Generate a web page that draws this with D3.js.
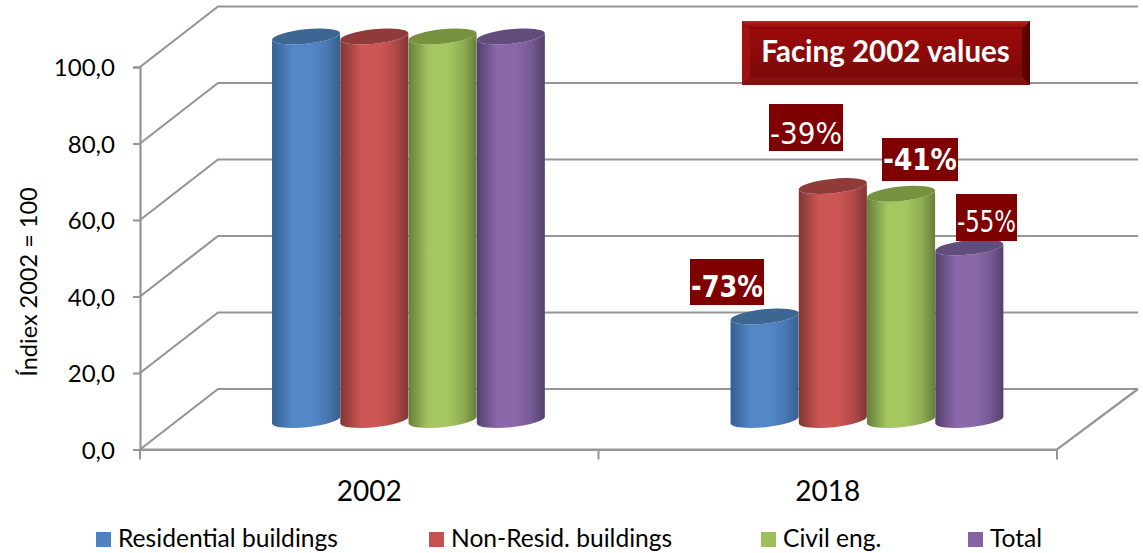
<!DOCTYPE html>
<html><head><meta charset="utf-8">
<script src="https://cdn.jsdelivr.net/npm/d3@7/dist/d3.min.js"></script>
<style>html,body{margin:0;padding:0;background:#fff}svg{display:block}text{font-family:Lato,sans-serif}</style>
</head><body><svg id="c" width="1143" height="553"></svg>
<script>
const categories = ["2002", "2018"];
const seriesNames = ["Residential buildings", "Non-Resid. buildings", "Civil eng.", "Total"];
const residential = [100, 27];
const nonResidential = [100, 61];
const civilEng = [100, 59];
const total = [100, 45];
const changeLabels = ["-73%", "-39%", "-41%", "-55%"];
const yTicks = [0, 20, 40, 60, 80, 100];
const seriesValues = [residential, nonResidential, civilEng, total];
const mainColors = ["#5387c8", "#cd5654", "#a4c75f", "#8a68aa"];
const edgeColors = ["#35608f", "#7f3634", "#667f3a", "#54406e"];
const topColors = ["#3d6693", "#8f3b3a", "#76923f", "#624c7c"];

const svg = d3.select("#c");
const defs = svg.append("defs");
const fmt = v => v.toFixed(1).replace(".", ",");
const depthX = 78, depthY = 60.5;
const x = d3.scaleBand().domain(categories).range([140, 1057]);
const y = d3.scaleLinear().domain([0, 100]).range([449.5, 67]);
const barY = d3.scaleLinear().domain([0, 100]).range([420, 36.5]);
const inner = d3.scaleBand().domain(seriesNames).range([-136.5, 136.5]);
const gridRight = 1138;

// walls
const grid = svg.append("g").attr("fill", "none").attr("stroke", "#959595").attr("stroke-width", 2.2);
grid.selectAll("path.g").data(yTicks).join("path").attr("class", "g")
  .attr("d", t => `M${x.range()[0]},${y(t)}L${x.range()[0] + depthX},${y(t) - depthY}L${gridRight},${y(t) - depthY}`);
grid.append("path").attr("d", `M140,${y(0)}L1057,${y(0)}L${gridRight},${y(0) - depthY}`);

// axes
const axL = svg.append("g").attr("transform", "translate(140,0)")
  .call(d3.axisLeft(y).tickValues(yTicks).tickFormat(fmt).tickSize(7).tickPadding(18));
const axB = svg.append("g").attr("transform", `translate(0,${y(0)})`)
  .call(d3.axisBottom(x).tickValues([]).tickSize(0));
axB.selectAll(".tick").remove();
axB.selectAll("path.t").data([140, 598.5, 1057]).join("path").attr("class", "t")
  .attr("d", d => `M${d},0V10`).attr("stroke", "#959595").attr("stroke-width", 2).attr("fill", "none");
svg.selectAll(".domain").attr("stroke", "#959595").attr("stroke-width", 2.2);
axL.selectAll(".tick line").attr("stroke", "#959595").attr("stroke-width", 2);
axL.selectAll(".tick text").attr("font-size", 24).attr("fill", "#000").attr("font-family", "Lato").attr("y", 1);

// cylinders
const rx = 34.2, ry = 7.2, tilt = 5.9, dy = rx * Math.sin(tilt * Math.PI / 180), dxx = rx * Math.cos(tilt * Math.PI / 180);
seriesNames.forEach((s, i) => {
  const g = defs.append("linearGradient").attr("id", "g" + i);
  [[0, edgeColors[i]], [.3, mainColors[i]], [.58, mainColors[i]], [.8, d3.interpolateRgb(mainColors[i], edgeColors[i])(.35)], [1, edgeColors[i]]]
    .forEach(([o, c]) => g.append("stop").attr("offset", o).attr("stop-color", c));
});
const bars = svg.append("g");
categories.forEach((cat, ci) => {
  seriesNames.forEach((s, si) => {
    const cx = x(cat) + x.bandwidth() / 2 + 39.2 + inner(s) + inner.bandwidth() / 2;
    const t = barY(seriesValues[si][ci]), b = barY(0);
    const L = cx - dxx, R = cx + dxx;
    bars.append("path").attr("fill", `url(#g${si})`)
      .attr("d", `M${L},${t + dy}L${L},${b + dy}A${rx},${ry} ${-tilt} 0 0 ${R},${b - dy}L${R},${t - dy}A${rx},${ry} ${-tilt} 0 1 ${L},${t + dy}Z`);
    bars.append("ellipse").attr("rx", rx).attr("ry", ry).attr("fill", topColors[si])
      .attr("transform", `translate(${cx},${t}) rotate(${-tilt})`);
  });
});

// category labels
svg.selectAll("text.cat").data(categories).join("text").attr("class", "cat")
  .attr("x", d => x(d) + x.bandwidth() / 2).attr("y", 501).attr("text-anchor", "middle")
  .attr("font-size", 28).attr("fill", "#000").text(d => d);

// y title
svg.append("text").attr("transform", "translate(37,282) rotate(-90)").attr("text-anchor", "middle")
  .attr("font-size", 23.5).attr("fill", "#000").text("Índiex 2002 = 100");

// legend
const legX = d3.scaleOrdinal().domain(seriesNames).range([96, 429, 761, 968]);
const leg = svg.selectAll("g.l").data(seriesNames).join("g").attr("class", "l")
  .attr("transform", d => `translate(${legX(d)},532)`);
leg.append("rect").attr("width", 15).attr("height", 15).attr("fill", (d, i) => d3.color(mainColors[i]).darker(0.12));
leg.append("text").attr("x", 22).attr("y", 15).attr("font-size", 24.6).attr("fill", "#000").text(d => d);

// change labels
const labelBoxes = [[690, 259, 74, 46, 700, 297], [769, 104, 74, 47, 400, 143.5], [882, 138, 76, 43, 700, 170], [956, 194, 61, 47, 400, 232]];
changeLabels.forEach((t, i) => {
  const [bx, by, bw, bh, w, base] = labelBoxes[i];
  svg.append("rect").attr("x", bx).attr("y", by).attr("width", bw).attr("height", bh).attr("fill", "#7f0000");
  svg.append("text").attr("x", bx + bw / 2).attr("y", base).attr("text-anchor", "middle")
    .attr("textLength", bw - 2).attr("lengthAdjust", "spacingAndGlyphs")
    .style("font-family", "DejaVu Sans").attr("font-size", 31).attr("font-weight", w === 700 ? 700 : 400)
    .attr("fill", "#fff").text(t);
});

// title box
const B = { x: 742, y: 21, w: 288, h: 64, b: 8 };
const bev = svg.append("g");
const grad = defs.append("linearGradient").attr("id", "face").attr("x2", 0).attr("y2", 1);
[[0, "#9c0a0a"], [1, "#7c0a0a"]].forEach(([o, c]) => grad.append("stop").attr("offset", o).attr("stop-color", c));
const topGrad = defs.append("linearGradient").attr("id", "bevTop").attr("x2", 0).attr("y2", 1);
[[0, "#bc2626"], [1, "#850000"]].forEach(([o, c]) => topGrad.append("stop").attr("offset", o).attr("stop-color", c));
bev.append("rect").attr("x", B.x).attr("y", B.y).attr("width", B.w).attr("height", B.h).attr("fill", "#8a0a0a");
const [x0, y0, x1, y1, k] = [B.x, B.y, B.x + B.w, B.y + B.h, B.b];
[[`${x0},${y0} ${x1},${y0} ${x1 - k},${y0 + k} ${x0 + k},${y0 + k}`, "url(#bevTop)"],
 [`${x0},${y0} ${x0 + k},${y0 + k} ${x0 + k},${y1 - k} ${x0},${y1}`, "#a01212"],
 [`${x1},${y0} ${x1 - k},${y0 + k} ${x1 - k},${y1 - k} ${x1},${y1}`, "#5c0000"],
 [`${x0},${y1} ${x0 + k},${y1 - k} ${x1 - k},${y1 - k} ${x1},${y1}`, "#841010"]]
 .forEach(([p, c]) => bev.append("polygon").attr("points", p).attr("fill", c));
bev.append("rect").attr("x", x0 + k).attr("y", y0 + k).attr("width", B.w - 2 * k).attr("height", B.h - 2 * k).attr("fill", "url(#face)");
svg.append("text").attr("x", B.x + B.w / 2 - 0.5).attr("y", 62).attr("text-anchor", "middle")
  .attr("font-size", 29.5).attr("font-weight", 700).attr("fill", "#fff").text("Facing 2002 values");
</script></body></html>
